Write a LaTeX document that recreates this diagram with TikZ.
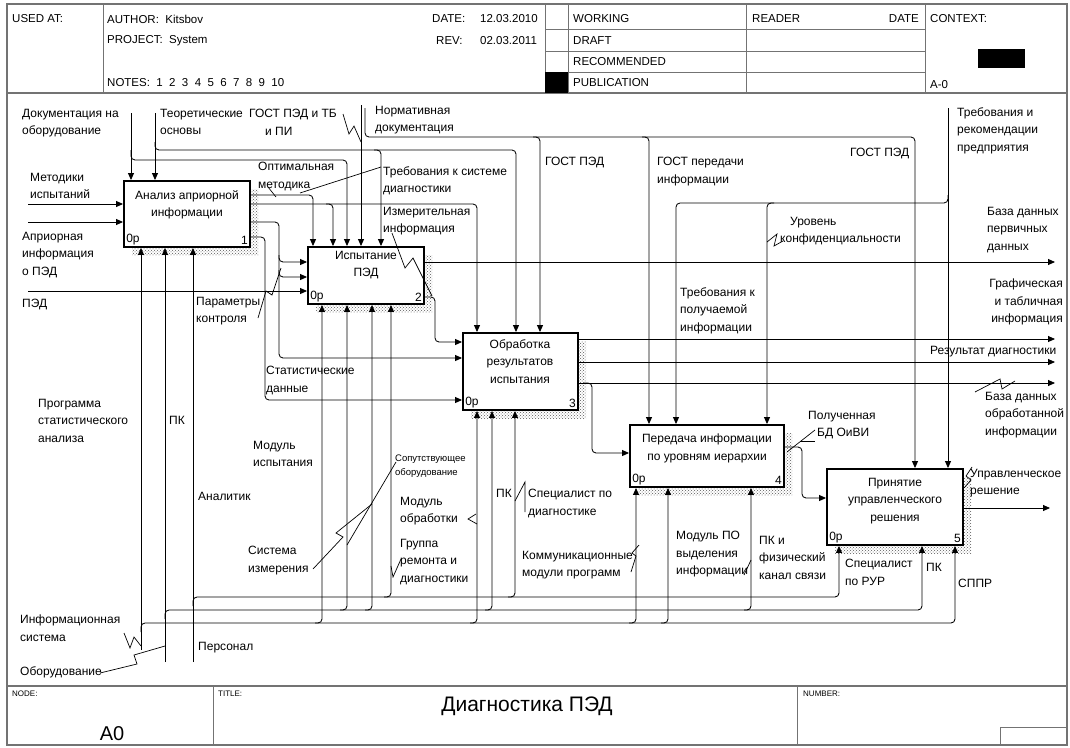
\documentclass[tikz,border=0pt]{standalone}
\usepackage{fontspec}
\setmainfont{Liberation Sans}
\usetikzlibrary{arrows.meta,patterns,fit}
\newcommand{\lblfnt}{\fontsize{12}{17.5}\selectfont}
\newcommand{\hdrfnt}{\fontsize{11.5}{14}\selectfont}
\newcommand{\smlfnt}{\fontsize{9.5}{14}\selectfont}
\begin{document}
\begin{tikzpicture}[x=1pt,y=-1pt,
  frm/.style={draw=black!55, line width=1.4pt},
  hl/.style={draw=black!55, line width=0.9pt},
  ln/.style={draw=black, line width=0.85pt, rounded corners=4pt},
  arr/.style={ln, -{Triangle[length=7pt,width=6pt]}},
  ldr/.style={draw=black, line width=0.7pt},
  lbl/.style={font=\lblfnt, align=left, inner sep=0pt, anchor=north west},
  lblr/.style={font=\lblfnt, align=right, inner sep=0pt, anchor=north east},
  hdr/.style={font=\hdrfnt, inner sep=0pt, anchor=west},
  fbox/.style={draw=black, line width=1.9pt, fill=white, inner sep=0pt},
  shd/.style={pattern=crosshatch dots, pattern color=black!65},
  btxt/.style={font=\lblfnt, align=center, inner sep=0pt, anchor=north},
  bnum/.style={font=\lblfnt, inner sep=3pt}
]
\useasboundingbox (0,0) rectangle (1070,747);
\fill[white] (0,0) rectangle (1070,747);

% ---------- frame ----------
\draw[frm] (7,4) rectangle (1067,745);
\draw[frm] (7,93) -- (1067,93);
\draw[frm] (7,686) -- (1067,686);
\draw[hl] (103,4) -- (103,93);
\draw[hl] (545,4) -- (545,93);
\draw[hl] (568,4) -- (568,93);
\draw[hl] (746,4) -- (746,93);
\draw[hl] (925,4) -- (925,93);
\draw[hl] (545,29) -- (925,29);
\draw[hl] (545,51) -- (925,51);
\draw[hl] (545,72) -- (925,72);
\fill[black] (545,72) rectangle (568,93);
\fill[black] (978,49) rectangle (1025,68);
\draw[hl] (213,686) -- (213,745);
\draw[hl] (797,686) -- (797,745);
\draw[hl] (1000,745) -- (1000,727) -- (1067,727);

\node[hdr] (hUsed) at (12,19) {USED AT:};
\node[hdr] (hAuth) at (107,19) {AUTHOR:\ \ Kitsbov};
\node[hdr] (hProj) at (107,41) {PROJECT:\ \ System};
\node[hdr] (hNotes) at (107,83) {NOTES:\ \ 1\ \ 2\ \ 3\ \ 4\ \ 5\ \ 6\ \ 7\ \ 8\ \ 9\ \ 10};
\node[hdr] (hDate) at (432,19) {DATE:};
\node[hdr] (hDateV) at (480,19) {12.03.2010};
\node[hdr] (hRev) at (436,41) {REV:};
\node[hdr] (hRevV) at (480,41) {02.03.2011};
\node[hdr] (hWork) at (573,19) {WORKING};
\node[hdr] (hDraft) at (573,41) {DRAFT};
\node[hdr] (hRec) at (573,62) {RECOMMENDED};
\node[hdr] (hPub) at (573,83) {PUBLICATION};
\node[hdr] (hRead) at (752,19) {READER};
\node[hdr, anchor=east] (hDate2) at (919,19) {DATE};
\node[hdr] (hCtx) at (930,19) {CONTEXT:};
\node[hdr] (hA0) at (930,85) {A-0};

\node[font=\fontsize{8}{9}\selectfont, anchor=north west, inner sep=0pt] (fNode) at (12,691) {NODE:};
\node[font=\fontsize{8}{9}\selectfont, anchor=north west, inner sep=0pt] (fTitle) at (218,691) {TITLE:};
\node[font=\fontsize{8}{9}\selectfont, anchor=north west, inner sep=0pt] (fNum) at (803,691) {NUMBER:};
\node[font=\fontsize{21}{24}\selectfont, inner sep=0pt] (fTitleText) at (527,706) {Диагностика ПЭД};
\node[font=\fontsize{20}{24}\selectfont, inner sep=0pt] (fA0) at (112,734) {A0};

% ---------- shadows ----------
\fill[shd] (132,189) rectangle (258,255);
\fill[shd] (316,255) rectangle (432,312);
\fill[shd] (471,341) rectangle (586,418);
\fill[shd] (638,433) rectangle (792,495);
\fill[shd] (835,477) rectangle (971,553);

% ---------- boxes ----------
\path (124,181) coordinate (b1a) (250,247) coordinate (b1b);
\path (308,247) coordinate (b2a) (424,304) coordinate (b2b);
\path (463,333) coordinate (b3a) (578,410) coordinate (b3b);
\path (630,425) coordinate (b4a) (784,487) coordinate (b4b);
\path (827,469) coordinate (b5a) (963,545) coordinate (b5b);
\node[fbox, fit=(b1a)(b1b)] (b1) {};
\node[fbox, fit=(b2a)(b2b)] (b2) {};
\node[fbox, fit=(b3a)(b3b)] (b3) {};
\node[fbox, fit=(b4a)(b4b)] (b4) {};
\node[fbox, fit=(b5a)(b5b)] (b5) {};

\node[btxt] (t1) at (187,190) {Анализ априорной\\информации};
\node[btxt] (t2) at (366,251) {Испытание\\ПЭД};
\node[btxt] (t3) at (520,339) {Обработка\\результатов\\испытания};
\node[btxt] (t4) at (707,434) {Передача информации\\по уровням иерархии};
\node[btxt] (t5) at (895,478) {Принятие\\управленческого\\решения};
\foreach \b/\n in {b1/1,b2/2,b3/3,b4/4,b5/5}{
  \node[bnum, anchor=south west] (\b p) at (\b.south west) {0p};
  \node[bnum, anchor=south east] (\b n) at (\b.south east) {\n};
}

% ---------- free ends ----------
\coordinate (cDoc) at (131,113);
\coordinate (cTeor) at (155,113);
\coordinate (cGost) at (361,105);
\coordinate (cNorm) at (365,108);
\coordinate (cTreb) at (948,108);
\coordinate (inMet) at (28,204);
\coordinate (inApr) at (28,222);
\coordinate (inPED) at (28,291);
\coordinate (outBD1) at (1055,262);
\coordinate (outGr) at (1055,339);
\coordinate (outRes) at (1055,362);
\coordinate (outBD2) at (1055,383);
\coordinate (outUpr) at (1050,508);
\coordinate (mInf) at (141,650);
\coordinate (mObor) at (165,662);
\coordinate (mPers) at (193,662);

% ---------- controls ----------
\draw[arr] (cDoc) -- (cDoc |- b1.north);
\draw[arr] (131,150) -- (131,160) -- (347,160) -- (347,0 |- b2.north);
\draw[arr] (cTeor) -- (cTeor |- b1.north);
\draw[arr] (155,142) -- (155,150) -- (516,150) -- (516,0 |- b3.north);
\draw[arr] (374,150) -- (381,150) -- (381,0 |- b2.north);
\draw[arr] (cGost) -- (cGost |- b2.north);
\draw[arr] (cNorm) -- (365,137) -- (915,137) -- (915,0 |- b5.north);
\draw[arr] (533,137) -- (540,137) -- (540,0 |- b3.north);
\draw[arr] (642,137) -- (649,137) -- (649,0 |- b4.north);
\draw[arr] (cTreb) -- (cTreb |- b5.north);
\draw[arr] (948,195) -- (948,203) -- (676,203) -- (676,0 |- b4.north);
\draw[arr] (774,203) -- (767,203) -- (767,0 |- b4.north);

% ---------- inputs ----------
\draw[arr] (inMet) -- (b1.west |- inMet);
\draw[arr] (inApr) -- (b1.west |- inApr);
\draw[arr] (inPED) -- (b2.west |- inPED);

% ---------- box 1 outputs ----------
\draw[arr] (b1.east |- 0,195) -- (313,195) -- (313,0 |- b2.north);
\draw[arr] (b1.east |- 0,204) -- (477,204) -- (477,0 |- b3.north);
\draw[arr] (326,204) -- (333,204) -- (333,0 |- b2.north);
\draw[arr] (b1.east |- 0,222) -- (279,222) -- (279,262) -- (b2.west |- 0,262);
\draw[arr] (279,255) -- (279,358) -- (b3.west |- 0,358);
\draw[arr] (279,270) -- (279,277) -- (b2.west |- 0,277);
\draw[arr] (b1.east |- 0,237) -- (265,237) -- (265,400) -- (b3.west |- 0,400);

% ---------- box 2 outputs ----------
\draw[arr] (b2.east |- outBD1) -- (outBD1);
\draw[arr] (b2.east |- 0,297) -- (435,297) -- (435,342) -- (b3.west |- 0,342);

% ---------- box 3 outputs ----------
\draw[arr] (b3.east |- outGr) -- (outGr);
\draw[arr] (b3.east |- outRes) -- (outRes);
\draw[arr] (b3.east |- outBD2) -- (outBD2);
\draw[arr] (584,383) -- (592,383) -- (592,453) -- (b4.west |- 0,453);

% ---------- box 4, 5 outputs ----------
\draw[arr] (b4.east |- 0,447) -- (802,447) -- (802,498) -- (b5.west |- 0,498);
\draw[arr] (b5.east |- outUpr) -- (outUpr);

% ---------- mechanisms ----------
\draw[arr] (mInf) -- (mInf |- b1.south);
\draw[arr] (141,632) -- (141,623) -- (955,623) -- (955,0 |- b5.south);
\draw[arr] (315,623) -- (322,623) -- (322,0 |- b2.south);
\draw[arr] (470,623) -- (477,623) -- (477,0 |- b3.south);
\draw[arr] (629,623) -- (636,623) -- (636,0 |- b4.south);
\draw[arr] (661,623) -- (668,623) -- (668,0 |- b4.south);

\draw[arr] (mObor) -- (mObor |- b1.south);
\draw[arr] (165,619) -- (165,610) -- (922,610) -- (922,0 |- b5.south);
\draw[arr] (340,610) -- (347,610) -- (347,0 |- b2.south);
\draw[arr] (365,610) -- (372,610) -- (372,0 |- b2.south);
\draw[arr] (485,610) -- (492,610) -- (492,0 |- b3.south);
\draw[arr] (744,610) -- (751,610) -- (751,0 |- b4.south);

\draw[arr] (mPers) -- (mPers |- b1.south);
\draw[arr] (193,606) -- (193,597) -- (839,597) -- (839,0 |- b5.south);
\draw[arr] (384,597) -- (391,597) -- (391,0 |- b2.south);
\draw[arr] (508,597) -- (515,597) -- (515,0 |- b3.south);

% ---------- leaders ----------
\draw[ldr] (343,114) -- (349,134) -- (354,126) -- (361,142);
\draw[ldr] (381,167) -- (300,193);
\draw[ldr] (268,187) -- (276,197);
\draw[ldr] (392,233) -- (405,268) -- (413,258) -- (432,296);
\draw[ldr] (258,318) -- (266,291) -- (272,295) -- (281,268);
\draw[ldr] (767,242) -- (777,234) -- (774,246) -- (783,241);
\draw[ldr] (975,392) -- (1000,379) -- (1002,389) -- (1015,381);
\draw[ldr] (787,452) -- (815,430);
\draw[ldr] (800,441) -- (815,441);
\draw[ldr] (964,488) -- (971,480) -- (966,476) -- (972,467);
\draw[ldr] (124,633) -- (130,648) -- (134,637) -- (141,646);
\draw[ldr] (100,673) -- (137,664) -- (134,655) -- (165,646);
\draw[ldr] (313,569) -- (343,537) -- (336,533) -- (372,504);
\draw[ldr] (396,462) -- (347,545);
\draw[ldr] (476,514) -- (468,519) -- (477,524);
\draw[ldr] (401,559) -- (393,577) -- (391,566);
\draw[ldr] (515,501) -- (525,482) -- (525,512);
\draw[ldr] (631,572) -- (636,556) -- (632,553) -- (639,545);
\draw[ldr] (744,575) -- (751,560);

% ---------- labels ----------
\node[lbl] (lDoc) at (22,109) {Документация на\\оборудование};
\node[lbl] (lTeor) at (160,109) {Теоретические\\основы};
\node[lbl] (lGost) at (249,109) {ГОСТ ПЭД и ТБ\\\hspace*{16pt}и ПИ};
\node[lbl] (lNorm) at (375,106) {Нормативная\\документация};
\node[lbl] (lMet) at (30,173) {Методики\\испытаний};
\node[lbl] (lApr) at (22,232) {Априорная\\информация\\о ПЭД};
\node[lbl] (lPED) at (22,299) {ПЭД};
\node[lbl] (lOpt) at (258,162) {Оптимальная\\методика};
\node[lbl] (lTrs) at (383,166) {Требования к системе\\диагностики};
\node[lbl] (lIzm) at (383,207) {Измерительная\\информация};
\node[lbl] (lGost1) at (545,157) {ГОСТ ПЭД};
\node[lbl] (lGostP) at (657,157) {ГОСТ передачи\\информации};
\node[lbl] (lGost2) at (850,148) {ГОСТ ПЭД};
\node[lbl] (lTrr) at (957,107) {Требования и\\рекомендации\\предприятия};
\node[lbl] (lUr) at (780,217) {\hspace*{10pt}Уровень\\конфиденциальности};
\node[lbl] (lBD1) at (987,207) {База данных\\первичных\\данных};
\node[lbl] (lTrp) at (680,287) {Требования к\\получаемой\\информации};
\node[lblr] (lGr) at (1063,279) {Графическая\\и табличная\\информация};
\node[lbl] (lPar) at (196,297) {Параметры\\контроля};
\node[lbl] (lStat) at (266,366) {Статистические\\данные};
\node[lbl] (lRes) at (930,346) {Результат диагностики};
\node[lbl] (lBD2) at (985,392) {База данных\\обработанной\\информации};
\node[lbl] (lPol) at (808,411) {Полученная\\\hspace*{9pt}БД ОиВИ};
\node[lbl] (lProg) at (38,399) {Программа\\статистического\\анализа};
\node[lbl] (lPK1) at (169,416) {ПК};
\node[lbl] (lModI) at (253,441) {Модуль\\испытания};
\node[lbl, font=\smlfnt] (lSop) at (395,455) {Сопутствующее\\оборудование};
\node[lbl] (lAn) at (198,492) {Аналитик};
\node[lbl] (lModO) at (400,497) {Модуль\\обработки};
\node[lbl] (lPK3) at (496,489) {ПК};
\node[lbl] (lSpD) at (528,489) {Специалист по\\диагностике};
\node[lbl] (lGr2) at (400,539) {Группа\\ремонта и\\диагностики};
\node[lbl] (lSys) at (248,546) {Система\\измерения};
\node[lbl] (lKom) at (522,551) {Коммуникационные\\модули программ};
\node[lbl] (lModP) at (676,531) {Модуль ПО\\выделения\\информации};
\node[lbl] (lPKf) at (759,536) {ПК и\\физический\\канал связи};
\node[lbl] (lSpR) at (845,559) {Специалист\\по РУР};
\node[lbl] (lPK5) at (926,563) {ПК};
\node[lbl] (lSppr) at (958,579) {СППР};
\node[lbl] (lInf) at (20,615) {Информационная\\система};
\node[lbl] (lObor) at (20,666) {Оборудование};
\node[lbl] (lPers) at (198,642) {Персонал};
\node[lbl] (lUpr) at (970,469) {Управленческое\\решение};
\end{tikzpicture}
\end{document}
